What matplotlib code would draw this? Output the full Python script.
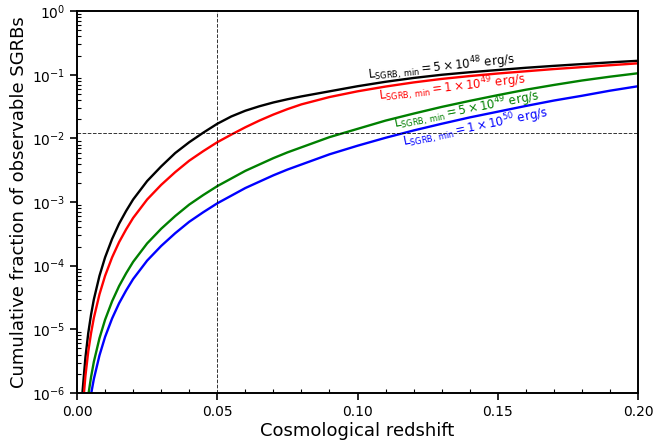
import numpy as np
import matplotlib
matplotlib.use('Agg')
import matplotlib.pyplot as plt
from matplotlib.ticker import MultipleLocator, LogLocator

# redshift grid and log10(cumulative fraction), one list per curve
z = [0.0015, 0.002, 0.003, 0.004, 0.005, 0.006, 0.008, 0.010, 0.0125, 0.015, 0.0175, 0.02,
     0.025, 0.03, 0.035, 0.04, 0.045, 0.05, 0.055, 0.06, 0.065, 0.07, 0.075, 0.08,
     0.09, 0.10, 0.11, 0.12, 0.13, 0.14, 0.15, 0.16, 0.17, 0.18, 0.19, 0.20]

lf_5e48 = [-6.34, -5.96, -5.44, -5.06, -4.77, -4.53, -4.16, -3.87, -3.58, -3.34, -3.14, -2.96,
           -2.67, -2.44, -2.23, -2.06, -1.91, -1.77, -1.655, -1.565, -1.495, -1.435, -1.385, -1.34,
           -1.26, -1.18, -1.11, -1.05, -1.00, -0.96, -0.925, -0.89, -0.86, -0.832, -0.805, -0.78]

lf_1e49 = [-6.63, -6.25, -5.73, -5.35, -5.06, -4.82, -4.45, -4.16, -3.87, -3.63, -3.43, -3.25,
           -2.96, -2.73, -2.53, -2.35, -2.20, -2.06, -1.94, -1.825, -1.72, -1.625, -1.54, -1.465,
           -1.35, -1.26, -1.185, -1.12, -1.065, -1.02, -0.98, -0.945, -0.91, -0.88, -0.85, -0.82]

lf_5e49 = [-7.32, -6.94, -6.42, -6.04, -5.75, -5.51, -5.14, -4.85, -4.56, -4.32, -4.12, -3.94,
           -3.65, -3.42, -3.22, -3.04, -2.89, -2.75, -2.63, -2.51, -2.41, -2.31, -2.22, -2.14,
           -1.98, -1.85, -1.72, -1.61, -1.505, -1.41, -1.32, -1.235, -1.16, -1.09, -1.03, -0.976]

lf_1e50 = [-7.59, -7.21, -6.69, -6.31, -6.02, -5.78, -5.41, -5.12, -4.83, -4.59, -4.39, -4.21,
           -3.92, -3.69, -3.49, -3.31, -3.16, -3.02, -2.90, -2.78, -2.68, -2.58, -2.49, -2.41,
           -2.25, -2.115, -1.99, -1.875, -1.77, -1.67, -1.58, -1.49, -1.405, -1.33, -1.25, -1.18]

labels = [r'$\mathrm{L_{SGRB,\,min}} = 5 \times 10^{48}$ erg/s',
          r'$\mathrm{L_{SGRB,\,min}} = 1 \times 10^{49}$ erg/s',
          r'$\mathrm{L_{SGRB,\,min}} = 5 \times 10^{49}$ erg/s',
          r'$\mathrm{L_{SGRB,\,min}} = 1 \times 10^{50}$ erg/s']
colors = ['k', 'r', 'g', 'b']

z_cut = 0.05
frac_cut = 0.012

fig = plt.figure(figsize=(6.55, 4.46), dpi=100)
ax = fig.add_axes([0.1176, 0.119, 0.8565, 0.856])

for lf, c in zip([lf_5e48, lf_1e49, lf_5e49, lf_1e50], colors):
    ax.plot(z, 10 ** np.array(lf), color=c, lw=1.7)

ax.axvline(z_cut, color='k', ls='--', lw=0.7, alpha=0.8)
ax.axhline(frac_cut, color='k', ls='--', lw=0.7, alpha=0.8)

# labels along the curves
lab_x = [0.1298, 0.1337, 0.139, 0.1419]
lab_y = [0.1327, 0.0622, 0.0281, 0.01469]
lab_rot = [6, 6.5, 11, 11.5]
for x, y, r, t, c in zip(lab_x, lab_y, lab_rot, labels, colors):
    ax.text(x, y, t, color=c, rotation=r, ha='center', va='center',
            rotation_mode='anchor', fontsize=8.5)

ax.set_yscale('log')
ax.set_xlim(0, 0.2)
ax.set_ylim(1e-6, 1)
ax.xaxis.set_major_locator(MultipleLocator(0.05))
ax.xaxis.set_minor_locator(MultipleLocator(0.01))
ax.yaxis.set_major_locator(LogLocator(base=10, numticks=10))
ax.yaxis.set_minor_locator(LogLocator(base=10, subs=np.arange(2, 10), numticks=20))
ax.tick_params(which='major', direction='out', length=5, width=1.2, labelsize=10)
ax.tick_params(which='minor', direction='in', length=3, width=0.8)
ax.tick_params(axis='y', which='minor', labelleft=False)
for s in ax.spines.values():
    s.set_linewidth(1.4)

ax.set_xlabel('Cosmological redshift', fontsize=13, labelpad=2)
ax.set_ylabel('Cumulative fraction of observable SGRBs', fontsize=13, labelpad=3)

fig.savefig('out.png', dpi=100)
